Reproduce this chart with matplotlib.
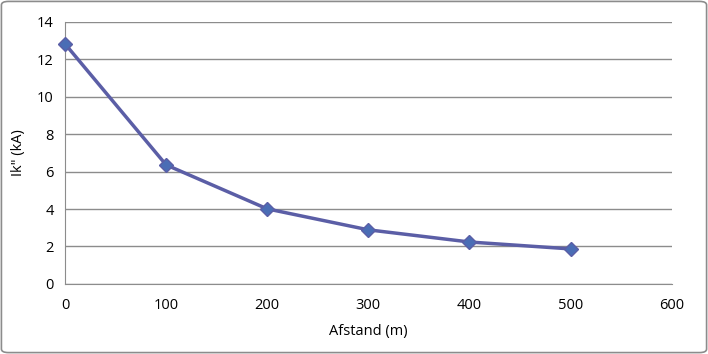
import matplotlib
matplotlib.use("Agg")
import matplotlib.pyplot as plt
from matplotlib.patches import FancyBboxPatch

afstand = [0, 100, 200, 300, 400, 500]
ik = [12.83, 6.36, 4.01, 2.89, 2.24, 1.87]
x_ticks = [0, 100, 200, 300, 400, 500, 600]
y_ticks = [0, 2, 4, 6, 8, 10, 12, 14]

plt.rcParams["font.family"] = ["Open Sans", "DejaVu Sans"]

fig = plt.figure(figsize=(7.08, 3.54), dpi=100)
ax = fig.add_axes([0.0918, 0.198, 0.857, 0.740])

border = FancyBboxPatch((0.002, 0.004), 0.996, 0.992, boxstyle="round,pad=0,rounding_size=0.01",
                        transform=fig.transFigure, facecolor="none", edgecolor="#8c8c8c", lw=1.2)
fig.patches.append(border)

ax.plot(afstand, ik, color="#5b5ea6", lw=2.5, marker="D", markersize=7,
        markerfacecolor="#4a6db5", markeredgecolor="#5b5ea6", markeredgewidth=1, zorder=3,
        clip_on=False)

ax.set_xlim(0, 600)
ax.set_ylim(0, 14)
ax.set_xticks(x_ticks)
ax.set_yticks(y_ticks)
ax.yaxis.grid(True, color="#8c8c8c", lw=1)
ax.set_axisbelow(True)
ax.tick_params(length=0, labelsize=10.5, pad=8)
ax.tick_params(axis="x", pad=10)
for s in ["top", "right"]:
    ax.spines[s].set_visible(False)
for s in ["left", "bottom"]:
    ax.spines[s].set_color("#8c8c8c")
ax.set_xlabel("Afstand (m)", fontsize=10.5, labelpad=8)
ax.set_ylabel("Ik\" (kA)", fontsize=10.5, labelpad=8)

fig.savefig("out.png", dpi=100)
